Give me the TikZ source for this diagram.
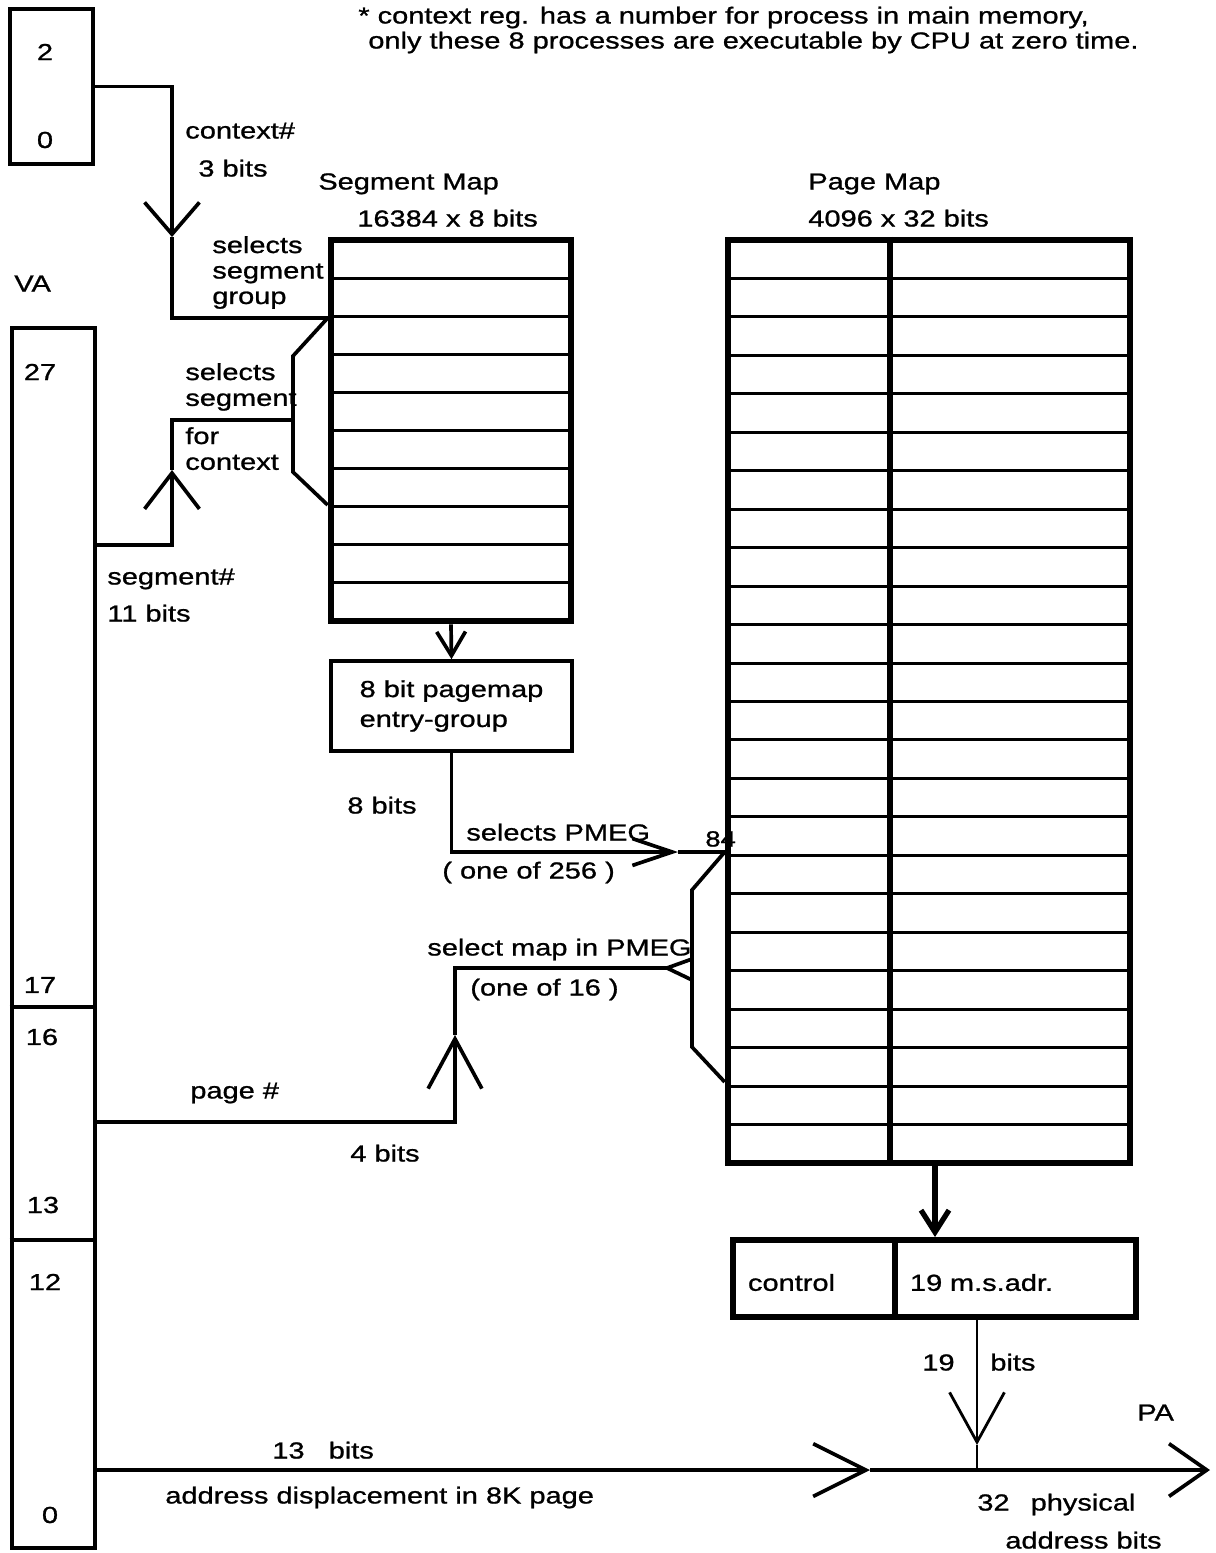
\documentclass[tikz,border=0pt]{standalone}
\usepackage{fontspec}
\setmainfont{Liberation Sans}[FakeStretch=1.25,FakeBold=1]
\usetikzlibrary{arrows.meta}
\tikzset{
  lbl/.style={anchor=mid west, inner sep=0pt, yshift=-2.2pt, font=\fontsize{13.2}{14.5}\selectfont},
  wire/.style={line width=2.1pt},
  vee/.style 2 args={-{Straight Barb[length=#1pt,width=#2pt]}},
  mapbox/.style={draw, line width=3.8pt, inner sep=0pt},
  rowline/.style={line width=1.7pt},
}
\begin{document}
\begin{tikzpicture}[x=0.02cm,y=-0.02cm]
\useasboundingbox (0,0) rectangle (1215,1553);
% note at the top
\node[lbl] (note1) at (358,15) {* context reg. has a number for process in main memory,};
\node[lbl] (note2) at (368,40) {only these 8 processes are executable by CPU at zero time.};
% context register
\node[draw, line width=2.7pt, minimum width=1.66cm, minimum height=3.1cm] (ctx) at (51.5,86.5) {};
\node[lbl, anchor=center, yshift=2.2pt] (c2) at (45,52) {2};
\node[lbl, anchor=center, yshift=2.2pt] (c0) at (45,140) {0};
\node[lbl] (ctxno) at (185,130) {context\#};
\node[lbl] (ctxbits) at (198,168) {3 bits};
% virtual address
\node[lbl] (valbl) at (14,283) {VA};
\node[draw, line width=2.6pt, minimum width=1.66cm, minimum height=24.4cm] (va) at (53.5,938) {};
\draw[line width=2.6pt] (va.west |- 0,1007) -- (va.east |- 0,1007);
\draw[line width=2.6pt] (va.west |- 0,1240) -- (va.east |- 0,1240);
\node[lbl, anchor=center, yshift=2.2pt] (b27) at (40,372) {27};
\node[lbl, anchor=center, yshift=2.2pt] (b17) at (40,985) {17};
\node[lbl, anchor=center, yshift=2.2pt] (b16) at (42,1037) {16};
\node[lbl, anchor=center, yshift=2.2pt] (b13) at (43,1205) {13};
\node[lbl, anchor=center, yshift=2.2pt] (b12) at (45,1282) {12};
\node[lbl, anchor=center, yshift=2.2pt] (b0) at (50,1515) {0};
% segment map
\node[lbl] (smname) at (318,181) {Segment Map};
\node[lbl] (smsize) at (357,218) {16384 x 8 bits};
\node[mapbox, minimum width=4.8cm, minimum height=7.62cm] (segmap) at (451,430.5) {};
\foreach \i in {1,...,9}
  \draw[rowline] (331,240+38.1*\i) -- (571,240+38.1*\i);
\node[lbl, anchor=north west, align=left, font=\fontsize{13.2}{14.5}\selectfont] (selgrp) at (212,232) {selects\\segment\\group};
\node[lbl, anchor=north west, align=left, font=\fontsize{13.2}{14.7}\selectfont] (selseg) at (185,359) {selects\\segment};
\node[lbl, anchor=north west, align=left, font=\fontsize{13.2}{14.7}\selectfont] (forctx) at (185,423) {for\\context};
\node[lbl] (segno) at (107,576) {segment\#};
\node[lbl] (segbits) at (107,613) {11 bits};
% pagemap entry group
\node[draw, wire, minimum width=4.82cm, minimum height=1.8cm, align=left, font=\fontsize{13.2}{17}\selectfont] (pmeg) at (451.5,706) {8 bit pagemap\\entry-group};
\node[lbl] (pmegbits) at (347,805) {8 bits};
\node[lbl] (selpmeg) at (466,832) {selects PMEG};
\node[lbl] (one256) at (442,870) {( one of 256 )};
\node[lbl, font=\fontsize{12.5}{14}\selectfont] (n84) at (705,838) {84};
\node[lbl] (selmap) at (427,947) {select map in PMEG};
\node[lbl] (one16) at (470,987) {(one of 16 )};
\node[lbl] (pageno) at (190,1090) {page \#};
\node[lbl] (pagebits) at (350,1153) {4 bits};
% page map
\node[lbl] (pmname) at (808,181) {Page Map};
\node[lbl] (pmsize) at (808,218) {4096 x 32 bits};
\node[mapbox, minimum width=8.04cm, minimum height=18.46cm] (pagemap) at (929,701.5) {};
\foreach \i in {1,...,23}
  \draw[rowline] (728,240+38.458*\i) -- (1130,240+38.458*\i);
\draw[line width=3.8pt] (pagemap.north -| 890,0) -- (pagemap.south -| 890,0);
% page map entry
\node[draw, line width=3.4pt, text width=2.64cm, inner xsep=0.3cm, text height=14pt, text depth=0pt, minimum height=1.54cm, font=\fontsize{13.2}{14.5}\selectfont] (ctrl) at (814,1278.5) {control};
\node[draw, line width=3.4pt, text width=4.22cm, inner xsep=0.3cm, text height=14pt, text depth=0pt, minimum height=1.54cm, font=\fontsize{13.2}{14.5}\selectfont] (msadr) at (1015.5,1278.5) {19 m.s.adr.};
\node[lbl] (adr19) at (922,1362) {19};
\node[lbl] (adrbits) at (990,1362) {bits};
\node[lbl] (palbl) at (1137,1412) {PA};
\node[lbl] (dispbits) at (272,1450) {13~~~bits};
\node[lbl] (disp) at (165,1495) {address displacement in 8K page};
\node[lbl] (phys1) at (977,1502) {32\hspace{12pt}physical};
\node[lbl] (phys2) at (1005,1540) {address bits};
% context# to segment map
\coordinate (ctxtip) at (172,237);
\draw[wire, vee={18.1}{31.2}] (ctx.east) -| (ctxtip);
\draw[wire] (ctxtip) |- (segmap.west |- 0,318);
\draw[wire] (segmap.west |- 0,318) -- (293,356) -- (293,472) -- (segmap.west |- 0,505);
% segment#
\coordinate (segtip) at (172,470);
\draw[wire, vee={20.4}{31.2}] (va.east |- 0,545) -| (segtip);
\draw[wire] (segtip) |- (293,420);
\draw[wire, vee={13.6}{16.4}] (segmap.south) -- (pmeg.north);
% PMEG select
\coordinate (pmegtip) at (678,852);
\draw[wire, vee={22.7}{15.3}] (pmeg.south) |- (pmegtip);
\draw[wire] (pmegtip) -- (pagemap.west |- pmegtip);
\draw[wire] (pagemap.west |- pmegtip) -- (692,890) -- (692,1047) -- (pagemap.west |- 0,1082);
% page#
\coordinate (pgtip) at (455,1035);
\coordinate (pgend) at (667,968);
\draw[wire, vee={28.3}{30.6}] (va.east |- 0,1122) -| (pgtip);
\draw[wire] (pgtip) |- (pgend);
\draw[wire] (692,959) -- (pgend) -- (692,980);
% physical address
\draw[line width=3pt, vee={12.5}{15.9}] (pagemap.south -| 935,0) -- (msadr.north -| 935,0);
\coordinate (join) at (977,1470);
\coordinate (adrtip) at (977,1445);
\draw[line width=1.6pt, vee={28.3}{31.2}] (msadr.south -| join) -- (adrtip);
\draw[line width=1.6pt] (adrtip) -- (join);
\coordinate (disptip) at (870,1470);
\coordinate (paend) at (1210,1470);
\draw[wire, vee={30}{30}] (va.east |- join) -- (disptip);
\draw[wire, vee={21.5}{30}] (disptip) -- (paend);
\end{tikzpicture}
\end{document}
